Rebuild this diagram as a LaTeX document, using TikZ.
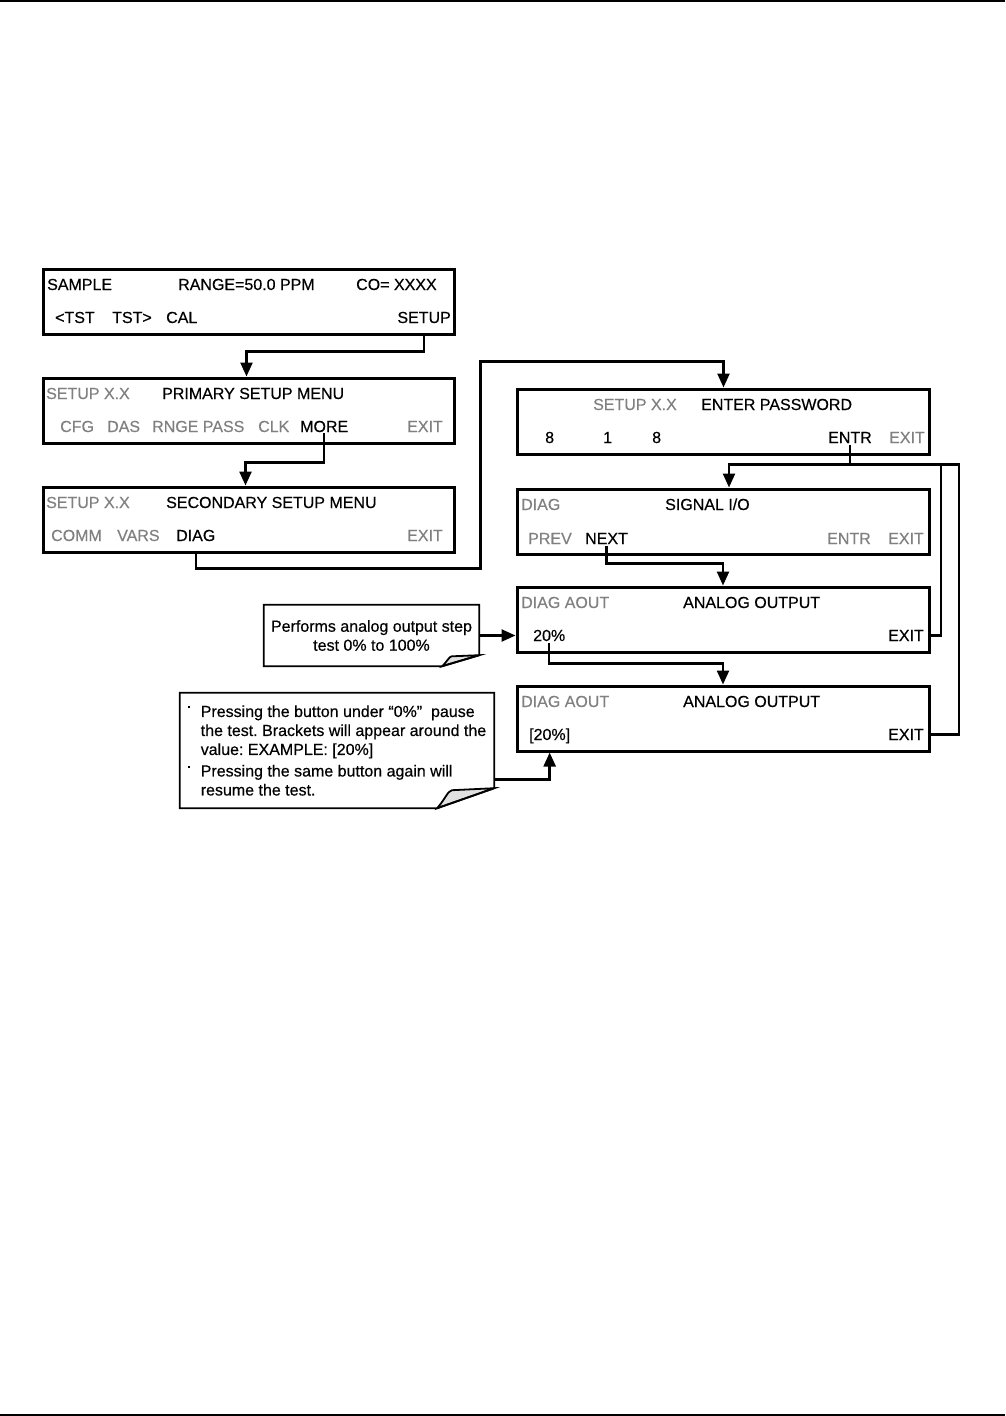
\documentclass[tikz,border=0pt]{standalone}
\usepackage{fontspec}
\setmainfont[FakeBold=0.4]{Liberation Sans}
\usetikzlibrary{arrows.meta}
\definecolor{dimgrey}{gray}{0.5}
\frenchspacing

\tikzset{
  menubox/.style={draw, line width=3pt, minimum width=411pt, minimum height=65pt, inner sep=0pt},
  key/.style={anchor=base west, inner sep=0pt},
  dimkey/.style={key, text=dimgrey},
  conn/.style={line width=2.4pt},
  notebox/.style={line width=1.8pt, line join=miter},
  notenode/.style={inner sep=0pt},
}

% paper note with a curled corner: node, corner width, corner height
\newcommand{\notepaper}[3]{%
  \filldraw[notebox, fill=black!12] ([xshift=-#2]#1.south east)
    .. controls ([xshift=-0.85*#2, yshift=0.5*#3]#1.south east) and ([xshift=-0.82*#2, yshift=0.85*#3]#1.south east)
    .. ([xshift=-0.74*#2, yshift=0.9*#3]#1.south east) -- ([yshift=#3]#1.south east) -- cycle;
  \draw[notebox] (#1.north west) -- (#1.north east) -- ([yshift=#3]#1.south east)
    -- ([xshift=-#2]#1.south east) -- (#1.south west) -- cycle;
}
\newcommand{\notemark}{\makebox[13pt][l]{\rule[8.5pt]{2.2pt}{2.2pt}}}

\begin{document}
\begin{tikzpicture}[x=1pt, y=-1pt, >={Triangle[length=14pt,width=12pt]}, font=\fontsize{16}{19}\selectfont]
\useasboundingbox (0,0) rectangle (1005,1416);

% page rules
\draw[line width=2pt] (0,1) -- (1005,1);
\draw[line width=2pt] (0,1415) -- (1005,1415);

% left column: setup menus
\node[menubox] (b1) at (248.5,301.5) {};
\node[key] (sample) at (47,290) {SAMPLE};
\node[key] (range) at (178,290) {RANGE=50.0 PPM};
\node[key] (conc) at (356,290) {CO= XXXX};
\node[key] (tstl) at (55,323) {<TST};
\node[key] (tstr) at (112,323) {TST>};
\node[key] (cal) at (166,323) {CAL};
\node[key, anchor=base east] (setup) at (451,323) {SETUP};

\node[menubox] (b2) at (248.5,410.5) {};
\node[dimkey] (setup2) at (46,399) {SETUP X.X};
\node[key] (primary) at (162,399) {PRIMARY SETUP MENU};
\node[dimkey] (cfg) at (60,432) {CFG};
\node[dimkey] (das) at (107,432) {DAS};
\node[dimkey] (rnge) at (152,432) {RNGE PASS};
\node[dimkey] (clk) at (258,432) {CLK};
\node[key] (more) at (300,432) {MORE};
\node[dimkey] (exit2) at (407,432) {EXIT};

\node[menubox] (b3) at (248.5,519.5) {};
\node[dimkey] (setup3) at (46,508) {SETUP X.X};
\node[key] (secondary) at (166,508) {SECONDARY SETUP MENU};
\node[dimkey] (comm) at (51,541) {COMM};
\node[dimkey] (vars) at (117,541) {VARS};
\node[key] (diag) at (176,541) {DIAG};
\node[dimkey] (exit3) at (407,541) {EXIT};

% right column: diagnostics menus
\node[menubox, minimum width=412pt] (b4) at (723,421.5) {};
\node[dimkey] (setup4) at (593,410) {SETUP X.X};
\node[key] (password) at (701,410) {ENTER PASSWORD};
\node[key] (pw1) at (545,443) {8};
\node[key] (pw2) at (603,443) {1};
\node[key] (pw3) at (652,443) {8};
\node[key] (entr) at (828,443) {ENTR};
\node[dimkey] (exit4) at (889,443) {EXIT};

\node[menubox, minimum width=412pt] (b5) at (723,521.5) {};
\node[dimkey] (diag5) at (521,510) {DIAG};
\node[key] (signal) at (665,510) {SIGNAL I/O};
\node[dimkey] (prev) at (528,544) {PREV};
\node[key] (next) at (585,544) {NEXT};
\node[dimkey] (entr5) at (827,544) {ENTR};
\node[dimkey] (exit5) at (888,544) {EXIT};

\node[menubox, minimum width=412pt] (b6) at (723,619.5) {};
\node[dimkey] (diag6) at (521,608) {DIAG AOUT};
\node[key] (aout6) at (683,608) {ANALOG OUTPUT};
\node[key] (pct) at (533,641) {20\%};
\node[key] (exit6) at (888,641) {EXIT};

\node[menubox, minimum width=412pt] (b7) at (723,718.5) {};
\node[dimkey] (diag7) at (521,707) {DIAG AOUT};
\node[key] (aout7) at (683,707) {ANALOG OUTPUT};
\node[key] (bpct) at (529,740) {[20\%]};
\node[key] (exit7) at (888,740) {EXIT};

% notes
\node[notenode, minimum width=215pt, minimum height=61pt, align=center] (note1) at (371.5,635.5)
  {Performs analog output step\\test 0\% to 100\%};
\notepaper{note1}{37}{11}
\node[notenode, minimum width=314pt, minimum height=115pt, align=left] (note2) at (337,750.5)
  {\notemark Pressing the button under “0\%”~ pause\\
   \hspace*{13pt}the test. Brackets will appear around the\\
   \hspace*{13pt}value: EXAMPLE: [20\%]\\[2.5pt]
   \notemark Pressing the same button again will\\
   \hspace*{13pt}resume the test.};
\notepaper{note2}{57}{20}

% connectors
\draw[conn,->] (setup.south |- b1.south) -- ++(0,16) -| ([xshift=205]b2.north west);
\draw[conn,->] ([yshift=-7]more.center) -- ++(0,29) -| ([xshift=204]b3.north west);
\draw[conn,->] (diag.south |- b3.south) -- ++(0,15) -| ([xshift=-35,yshift=26]b4.north west)
  -| ([xshift=208]b4.north west);
\draw[conn,->] ([yshift=-7]entr.center) -- ++(0,20) coordinate (entrturn) -| ([xshift=6]b5.north);
\draw[conn] (entrturn) -- ++(109,0) |- (b7.east |- exit7.center);
\draw[conn] (b6.east |- exit6.center) -| ([xshift=91]entrturn);
\draw[conn,->] ([yshift=-7]next.center) -- ++(0,18) -| (b6.north);
\draw[conn,->] ([yshift=-7]pct.center) -- ++(0,21) -| (b7.north);
\draw[conn,->] (note1.east) -- (note1.east -| b6.west);
\draw[conn,->] ([yshift=-29]note2.east) -| (bpct.south |- b7.south);
\end{tikzpicture}
\end{document}
